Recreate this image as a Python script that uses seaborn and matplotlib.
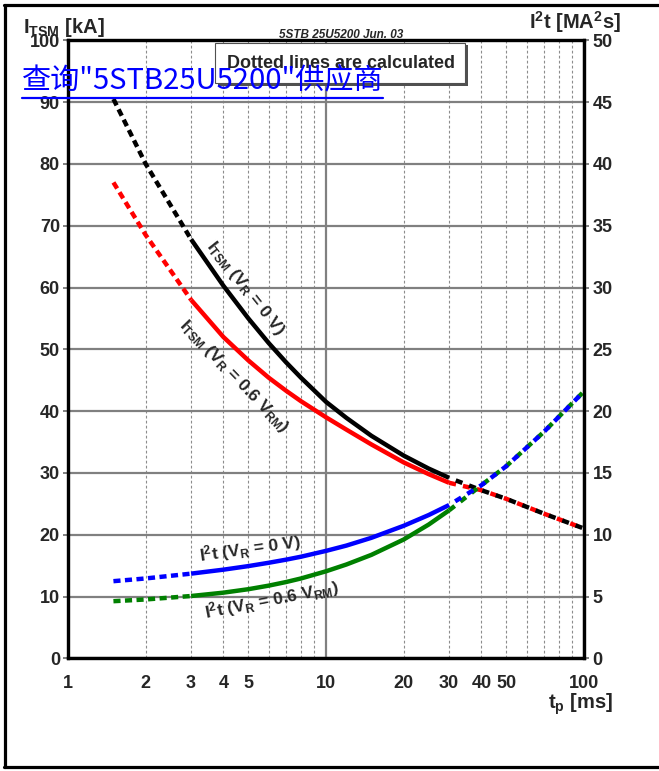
import matplotlib
matplotlib.use("Agg")
import numpy as np
import pandas as pd
import seaborn as sns
import matplotlib.pyplot as plt
from matplotlib.ticker import FixedLocator, FuncFormatter
from matplotlib.lines import Line2D
from matplotlib.patches import Rectangle

# ---------------- data ----------------
t_ms = [1.5, 2, 3, 4, 5, 6, 7, 8, 10, 12, 15, 20, 25, 30, 40, 50, 70, 100]
itsm_vr0 = [90.5, 80.0, 67.8, 60.3, 55.0, 51.0, 47.9, 45.4, 41.5, 38.9, 36.0, 32.8, 30.7, 29.2, 27.2, 25.8, 23.4, 21.0]
itsm_vr06 = [77.0, 68.5, 58.0, 52.0, 48.2, 45.4, 43.3, 41.6, 39.0, 37.0, 34.6, 31.7, 29.8, 28.4, 27.2, 25.8, 23.4, 21.0]
i2t_vr0 = [6.24, 6.46, 6.85, 7.17, 7.46, 7.73, 7.98, 8.22, 8.69, 9.12, 9.75, 10.72, 11.59, 12.4, 14.0, 15.55, 18.33, 21.6]
i2t_vr06 = [4.62, 4.76, 5.04, 5.31, 5.59, 5.88, 6.17, 6.46, 7.04, 7.59, 8.37, 9.61, 10.82, 11.97, 14.0, 15.55, 18.33, 21.6]
measured_from = 3    # ms, solid (measured) range start
measured_to = 30     # ms, solid (measured) range end

x_major = [1, 10, 100]
x_minor = [2, 3, 4, 5, 6, 7, 8, 9, 20, 30, 40, 50, 60, 70, 80, 90]
x_labelled = [1, 2, 3, 4, 5, 10, 20, 30, 40, 50, 100]
y_left_ticks = list(range(0, 101, 10))
y_right_ticks = list(range(0, 51, 5))

# ---------------- style ----------------
sns.set_theme(style="white")
plt.rcParams["font.family"] = ["Liberation Sans", "DejaVu Sans"]
plt.rcParams["font.weight"] = "bold"
plt.rcParams["mathtext.fontset"] = "custom"
plt.rcParams["mathtext.rm"] = "Liberation Sans:bold"
plt.rcParams["mathtext.it"] = "Liberation Sans:bold"
plt.rcParams["mathtext.bf"] = "Liberation Sans:bold"
plt.rcParams["mathtext.sf"] = "Liberation Sans:bold"
plt.rcParams["mathtext.default"] = "rm"

W, H = 659, 771
fig = plt.figure(figsize=(W / 100, H / 100), dpi=100)
fig.patch.set_facecolor("white")


def fx(px):
    return px / W


def fy(py):
    return 1 - py / H


ax = fig.add_axes([fx(68), fy(658.3), (584 - 68) / W, (658.3 - 40.3) / H])
ax.set_xscale("log")
ax2 = ax.twinx()

df = pd.DataFrame({"t": t_ms, "itsm0": itsm_vr0, "itsm06": itsm_vr06,
                   "i2t0": i2t_vr0, "i2t06": i2t_vr06})
lo = df[df.t <= measured_from]
mid = df[(df.t >= measured_from) & (df.t <= measured_to)]
hi = df[df.t >= measured_to]

LW = 3.2
GRAY = "#808080"


def draw(axis, data, col, color, style=None):
    sns.lineplot(data=data, x="t", y=col, ax=axis, color=color, linewidth=LW,
                 estimator=None, sort=True, legend=False)
    ln = axis.lines[-1]
    if style is not None:
        ln.set_linestyle(style)
    ln.set_solid_capstyle("butt")
    ln.set_dash_capstyle("butt")
    ln.set_solid_joinstyle("round")
    return ln


dot = (0, (1.6, 1.0))
altA = (0, (1.6, 1.6))
altB = (1.6, (1.6, 1.6))

# I_TSM curves
draw(ax, lo, "itsm0", "black", dot)
draw(ax, lo, "itsm06", "#ff0000", dot)
draw(ax, mid, "itsm0", "black")
draw(ax, mid, "itsm06", "#ff0000")
draw(ax, hi, "itsm06", "#ff0000", altA)
draw(ax, hi, "itsm0", "black", altB)

# I2t curves
draw(ax2, lo, "i2t0", "#0000ff", dot)
draw(ax2, lo, "i2t06", "#008000", dot)
draw(ax2, mid, "i2t0", "#0000ff")
draw(ax2, mid, "i2t06", "#008000")
draw(ax2, hi, "i2t06", "#008000", altA)
draw(ax2, hi, "i2t0", "#0000ff", altB)

# ---------------- axes ----------------
ax.set_xlim(1, 100)
ax.set_ylim(0, 100)
ax2.set_ylim(0, 50)
ax.set_xlabel("")
ax.set_ylabel("")
ax2.set_ylabel("")

ax.xaxis.set_major_locator(FixedLocator(x_major))
ax.xaxis.set_minor_locator(FixedLocator(x_minor))
fmt = FuncFormatter(lambda v, p: (f"{v:g}" if any(abs(v - l) < 1e-9 for l in x_labelled) else ""))
ax.xaxis.set_major_formatter(fmt)
ax.xaxis.set_minor_formatter(fmt)
ax.set_yticks(y_left_ticks)
ax2.set_yticks(y_right_ticks)

ax.grid(True, which="major", axis="y", color=GRAY, linewidth=1.6, linestyle="-")
ax.grid(True, which="major", axis="x", color=GRAY, linewidth=1.6, linestyle="-")
ax.grid(True, which="minor", axis="x", color="#8c8c8c", linewidth=0.8, linestyle=(0, (2.5, 2.0)))
ax.set_axisbelow(True)

ax.tick_params(axis="x", which="both", bottom=True, length=0, pad=12, labelsize=13)
ax.tick_params(axis="y", which="major", left=True, direction="out", length=3.6,
               width=1.4, color=GRAY, pad=2.2, labelsize=13)
ax2.tick_params(axis="y", which="major", right=True, direction="out", length=3.6,
                width=1.4, color=GRAY, pad=2.5, labelsize=13)
for a in (ax, ax2):
    for sp in a.spines.values():
        sp.set_linewidth(2.3)
        sp.set_color("black")

# ---------------- curve labels ----------------
ax.text(4.85, 59.9, r"I$_{TSM}$ (V$_{R}$ = 0 V)", rotation=-51.5, ha="center",
        va="center", fontsize=12.5, rotation_mode="anchor")
ax.text(4.38, 45.6, r"I$_{TSM}$ (V$_{R}$ = 0.6 V$_{RM}$)", rotation=-46, ha="center",
        va="center", fontsize=12.5, rotation_mode="anchor")
ax2.text(5.07, 8.92, r"I$^{2}$t (V$_{R}$ = 0 V)", rotation=8, ha="center",
         va="center", fontsize=12.5, rotation_mode="anchor")
ax2.text(6.16, 4.72, r"I$^{2}$t (V$_{R}$ = 0.6 V$_{RM}$)", rotation=11, ha="center",
         va="center", fontsize=12.5, rotation_mode="anchor")

# ---------------- figure texts ----------------
fig.text(fx(23), fy(33), r"I$_{TSM}$ [kA]", fontsize=14.5, ha="left", va="baseline")
fig.text(fx(621), fy(29), r"I$^{2}$t [MA$^{2}$s]", fontsize=14.5, ha="right", va="baseline")
fig.text(fx(613), fy(709), r"t$_{p}$ [ms]", fontsize=14.5, ha="right", va="baseline")
fig.text(fx(341), fy(38), "5STB 25U5200 Jun. 03", fontsize=8.5, style="italic",
         ha="center", va="baseline")

# "Dotted lines are calculated" box with shadow
fig.add_artist(Rectangle((fx(217.5), fy(85.5)), 250 / W, 40 / H, transform=fig.transFigure,
                         facecolor="#505050", edgecolor="none", zorder=5))
fig.add_artist(Rectangle((fx(215), fy(83)), 250 / W, 40 / H, transform=fig.transFigure,
                         facecolor="white", edgecolor="#505050", linewidth=0.8, zorder=6))
fig.text(fx(341), fy(63), "Dotted lines are calculated", fontsize=13, ha="center",
         va="center", zorder=7)

# blue link-like overlay text
fig.text(fx(22), fy(88), '查询"5STB25U5200"供应商', color="#0000ff", fontsize=21,
         fontweight="normal", family=["Noto Sans CJK SC", "DejaVu Sans"],
         ha="left", va="baseline", zorder=10)
fig.add_artist(Line2D([fx(22), fx(383)], [fy(97.5), fy(97.5)], color="#0000ff",
                      linewidth=1.6, transform=fig.transFigure, zorder=10))

# outer frame (left, top, bottom)
frame_kw = dict(color="black", linewidth=2.3, transform=fig.transFigure, zorder=10)
fig.add_artist(Line2D([fx(5), fx(5)], [fy(5), fy(767)], **frame_kw))
fig.add_artist(Line2D([fx(4), 1], [fy(5), fy(5)], **frame_kw))
fig.add_artist(Line2D([fx(4), 1], [fy(767), fy(767)], **frame_kw))

fig.savefig("out.png", dpi=100, facecolor="white")
